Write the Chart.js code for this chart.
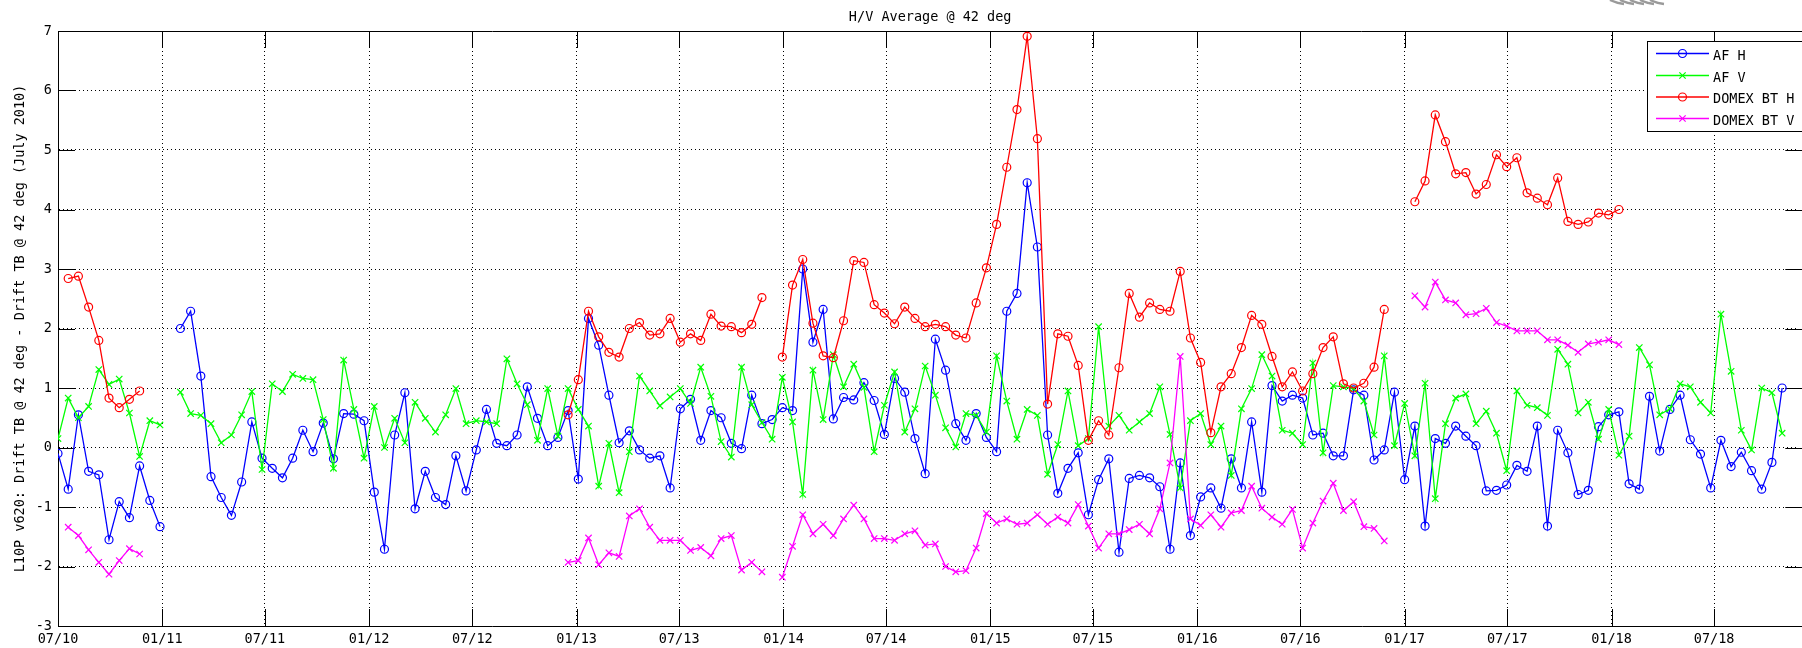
<!DOCTYPE html>
<html>
<head>
<meta charset="utf-8">
<title>H/V Average @ 42 deg</title>
<script src="https://cdn.jsdelivr.net/npm/chart.js@4.4.1/dist/chart.umd.min.js"></script>
<style>
  html, body { margin: 0; padding: 0; background: #fff; }
</style>
</head>
<body>
<canvas id="chart" width="1802" height="648"></canvas>
<script>
// samples every 18 days starting 07/01/2010
const startDate = '2010-07-01';
const stepDays = 18;
const endDate = '2018-11-23';

const tickDates = [
    '2010-07-01', '2011-01-01', '2011-07-01', '2012-01-01', '2012-07-01',
    '2013-01-01', '2013-07-01', '2014-01-01', '2014-07-01', '2015-01-01',
    '2015-07-01', '2016-01-01', '2016-07-01', '2017-01-01', '2017-07-01',
    '2018-01-01', '2018-07-01',
];
const yMin = -3;
const yMax = 7;

const afH = [
    -0.10, -0.70, 0.55, -0.40, -0.46, -1.55, -0.91, -1.18, -0.31, -0.89,
    -1.33, null, 2.00, 2.29, 1.20, -0.49, -0.84, -1.14, -0.58, 0.43,
    -0.18, -0.35, -0.51, -0.18, 0.29, -0.07, 0.41, -0.19, 0.57, 0.56,
    0.45, -0.75, -1.71, 0.21, 0.92, -1.03, -0.40, -0.84, -0.96, -0.14,
    -0.73, -0.04, 0.64, 0.07, 0.03, 0.21, 1.02, 0.49, 0.03, 0.17,
    0.62, -0.53, 2.17, 1.72, 0.88, 0.08, 0.28, -0.04, -0.18, -0.14,
    -0.68, 0.65, 0.81, 0.12, 0.62, 0.50, 0.07, -0.02, 0.88, 0.40,
    0.47, 0.67, 0.62, 3.00, 1.77, 2.32, 0.48, 0.84, 0.80, 1.09,
    0.79, 0.22, 1.16, 0.93, 0.15, -0.44, 1.82, 1.30, 0.40, 0.12,
    0.57, 0.17, -0.07, 2.29, 2.59, 4.45, 3.37, 0.21, -0.77, -0.35,
    -0.09, -1.13, -0.54, -0.19, -1.76, -0.52, -0.47, -0.51, -0.66, -1.71,
    -0.26, -1.48, -0.83, -0.68, -1.02, -0.19, -0.68, 0.43, -0.75, 1.04,
    0.78, 0.88, 0.83, 0.21, 0.24, -0.14, -0.14, 0.97, 0.88, -0.21,
    -0.04, 0.93, -0.54, 0.36, -1.32, 0.15, 0.07, 0.36, 0.19, 0.03,
    -0.73, -0.72, -0.63, -0.30, -0.40, 0.36, -1.32, 0.29, -0.09, -0.79,
    -0.72, 0.35, 0.55, 0.60, -0.61, -0.70, 0.86, -0.06, 0.64, 0.88,
    0.13, -0.11, -0.68, 0.12, -0.32, -0.08, -0.39, -0.70, -0.25, 1.00,
];

const afV = [
    0.15, 0.83, 0.50, 0.69, 1.31, 1.06, 1.15, 0.58, -0.15, 0.45,
    0.38, null, 0.93, 0.57, 0.54, 0.40, 0.08, 0.21, 0.55, 0.94,
    -0.37, 1.07, 0.94, 1.23, 1.16, 1.14, 0.47, -0.35, 1.47, 0.64,
    -0.18, 0.69, 0.00, 0.49, 0.08, 0.76, 0.49, 0.26, 0.55, 0.99,
    0.40, 0.45, 0.43, 0.40, 1.49, 1.07, 0.72, 0.12, 0.99, 0.19,
    0.99, 0.64, 0.36, -0.65, 0.07, -0.76, -0.07, 1.20, 0.95, 0.70,
    0.85, 0.99, 0.74, 1.35, 0.86, 0.10, -0.16, 1.35, 0.72, 0.42,
    0.14, 1.18, 0.43, -0.79, 1.30, 0.47, 1.56, 1.02, 1.40, 1.01,
    -0.07, 0.71, 1.27, 0.26, 0.65, 1.37, 0.88, 0.33, 0.01, 0.57,
    0.54, 0.26, 1.54, 0.78, 0.14, 0.64, 0.54, -0.45, 0.05, 0.95,
    0.03, 0.15, 2.03, 0.36, 0.54, 0.29, 0.43, 0.57, 1.02, 0.22,
    -0.68, 0.45, 0.57, 0.05, 0.36, -0.47, 0.65, 0.99, 1.56, 1.20,
    0.29, 0.24, 0.05, 1.42, -0.09, 1.04, 1.02, 0.99, 0.78, 0.21,
    1.54, 0.03, 0.74, -0.14, 1.08, -0.86, 0.40, 0.83, 0.90, 0.40,
    0.61, 0.24, -0.39, 0.95, 0.71, 0.67, 0.54, 1.65, 1.40, 0.58,
    0.76, 0.14, 0.64, -0.13, 0.19, 1.68, 1.39, 0.55, 0.65, 1.07,
    1.02, 0.76, 0.58, 2.24, 1.28, 0.29, -0.04, 1.00, 0.92, 0.24,
];

const domexH = [
    null, 2.84, 2.88, 2.36, 1.80, 0.83, 0.67, 0.81, 0.95, null,
    null, null, null, null, null, null, null, null, null, null,
    null, null, null, null, null, null, null, null, null, null,
    null, null, null, null, null, null, null, null, null, null,
    null, null, null, null, null, null, null, null, null, null,
    0.55, 1.14, 2.29, 1.86, 1.60, 1.52, 2.00, 2.10, 1.89, 1.91,
    2.17, 1.77, 1.91, 1.80, 2.24, 2.04, 2.03, 1.93, 2.07, 2.52,
    null, 1.52, 2.73, 3.16, 2.09, 1.54, 1.51, 2.13, 3.14, 3.11,
    2.40, 2.26, 2.08, 2.36, 2.17, 2.03, 2.07, 2.03, 1.89, 1.84,
    2.43, 3.02, 3.75, 4.71, 5.68, 6.91, 5.19, 0.73, 1.91, 1.87,
    1.38, 0.12, 0.45, 0.21, 1.34, 2.59, 2.19, 2.43, 2.32, 2.29,
    2.96, 1.84, 1.43, 0.25, 1.02, 1.24, 1.68, 2.22, 2.07, 1.53,
    1.02, 1.27, 0.95, 1.24, 1.68, 1.86, 1.07, 1.00, 1.08, 1.35,
    2.32, null, null, 4.13, 4.48, 5.59, 5.14, 4.60, 4.62, 4.26,
    4.42, 4.92, 4.72, 4.87, 4.28, 4.19, 4.08, 4.53, 3.80, 3.75,
    3.79, 3.94, 3.91, 4.00, null, null, null, null, null, null,
    null, null, null, null, null, null, null, null, null, null,
];

const domexV = [
    null, -1.34, -1.48, -1.72, -1.93, -2.13, -1.90, -1.70, -1.79, null,
    null, null, null, null, null, null, null, null, null, null,
    null, null, null, null, null, null, null, null, null, null,
    null, null, null, null, null, null, null, null, null, null,
    null, null, null, null, null, null, null, null, null, null,
    -1.93, -1.90, -1.52, -1.97, -1.77, -1.83, -1.15, -1.03, -1.34, -1.56,
    -1.56, -1.56, -1.73, -1.68, -1.82, -1.53, -1.48, -2.06, -1.93, -2.09,
    null, -2.18, -1.66, -1.13, -1.45, -1.29, -1.48, -1.20, -0.97, -1.20,
    -1.53, -1.53, -1.56, -1.45, -1.40, -1.64, -1.62, -2.00, -2.09, -2.07,
    -1.69, -1.11, -1.27, -1.20, -1.29, -1.27, -1.13, -1.29, -1.17, -1.27,
    -0.96, -1.32, -1.69, -1.45, -1.45, -1.38, -1.29, -1.45, -1.03, -0.26,
    1.53, -1.20, -1.31, -1.13, -1.34, -1.10, -1.06, -0.65, -1.02, -1.17,
    -1.29, -1.04, -1.69, -1.27, -0.90, -0.60, -1.06, -0.91, -1.33, -1.36,
    -1.57, null, null, 2.55, 2.36, 2.78, 2.48, 2.43, 2.23, 2.25,
    2.34, 2.10, 2.04, 1.96, 1.96, 1.96, 1.81, 1.81, 1.72, 1.60,
    1.74, 1.77, 1.81, 1.73, null, null, null, null, null, null,
    null, null, null, null, null, null, null, null, null, null,
];

const FONT = '"DejaVu Sans Mono", monospace';
const FONT_SIZE = 13.5;
const TICK_LEN = 17;

const dayOf = (s) => (Date.parse(s) - Date.parse(startDate)) / 86400000;
const tickDays = tickDates.map(dayOf);
const tickLabel = (s) => s.slice(5, 7) + '/' + s.slice(2, 4);

const toPoints = (values) => values.map((v, i) => ({ x: i * stepDays, y: v }));

function lineSet(label, values, color, style, radius, order) {
    return {
        label: label,
        data: toPoints(values),
        borderColor: color,
        backgroundColor: color,
        borderWidth: 1.3,
        pointStyle: style,
        pointRadius: radius,
        pointBorderWidth: 1.2,
        pointBorderColor: color,
        pointBackgroundColor: 'rgba(0,0,0,0)',
        spanGaps: false,
        tension: 0,
        order: order,
    };
}

// axes box, inward ticks, title and legend
const matlabFrame = {
    id: 'matlabFrame',
    beforeDatasetsDraw(chart) {
        const { ctx, chartArea: a, scales: { x, y } } = chart;
        const rightAxis = a.right + 6;
        ctx.save();
        ctx.strokeStyle = '#000';
        ctx.lineWidth = 1;
        ctx.beginPath();
        ctx.moveTo(a.left, Math.round(a.top) + 0.5);
        ctx.lineTo(a.right, Math.round(a.top) + 0.5);
        x.ticks.forEach((t) => {
            const px = Math.round(x.getPixelForValue(t.value)) + 0.5;
            ctx.moveTo(px, a.bottom);
            ctx.lineTo(px, a.bottom - TICK_LEN);
            ctx.moveTo(px, a.top);
            ctx.lineTo(px, a.top + TICK_LEN);
        });
        y.ticks.forEach((t) => {
            const py = Math.round(y.getPixelForValue(t.value)) + 0.5;
            ctx.moveTo(a.left, py);
            ctx.lineTo(a.left + TICK_LEN, py);
            ctx.moveTo(rightAxis, py);
            ctx.lineTo(rightAxis - TICK_LEN, py);
        });
        ctx.stroke();
        ctx.restore();
    },
    afterDraw(chart) {
        const { ctx, chartArea: a } = chart;
        ctx.save();
        ctx.font = FONT_SIZE + 'px ' + FONT;
        ctx.fillStyle = '#000';

        // title
        ctx.textAlign = 'center';
        ctx.textBaseline = 'middle';
        ctx.fillText('H/V Average @ 42 deg', (a.left + a.right + 6) / 2, 17.5);

        // cut-off logo at the top edge
        ctx.strokeStyle = '#9a9a9a';
        ctx.lineWidth = 2.5;
        for (let k = 0; k < 5; k++) {
            ctx.beginPath();
            ctx.moveTo(1610 + k * 10, 0);
            ctx.quadraticCurveTo(1616 + k * 10, 3, 1624 + k * 10, 4);
            ctx.stroke();
        }

        // legend
        const box = { x: 1647.5, y: 41.5, w: 200, h: 90 };
        ctx.fillStyle = '#fff';
        ctx.fillRect(box.x, box.y, box.w, box.h);
        ctx.strokeStyle = '#000';
        ctx.lineWidth = 1;
        ctx.strokeRect(box.x, box.y, box.w, box.h);
        const rows = [53.5, 75.5, 97, 118.5];
        chart.data.datasets.forEach((ds, i) => {
            const yy = rows[i];
            ctx.strokeStyle = ds.borderColor;
            ctx.lineWidth = ds.borderWidth;
            ctx.beginPath();
            ctx.moveTo(1656, yy);
            ctx.lineTo(1709, yy);
            ctx.stroke();
            ctx.lineWidth = ds.pointBorderWidth;
            ctx.beginPath();
            const cx = 1682.5;
            if (ds.pointStyle === 'circle') {
                ctx.arc(cx, yy, ds.pointRadius, 0, Math.PI * 2);
            } else {
                const r = ds.pointRadius * 0.7;
                ctx.moveTo(cx - r, yy - r); ctx.lineTo(cx + r, yy + r);
                ctx.moveTo(cx - r, yy + r); ctx.lineTo(cx + r, yy - r);
            }
            ctx.stroke();
            ctx.fillStyle = '#000';
            ctx.textAlign = 'left';
            ctx.textBaseline = 'middle';
            ctx.fillText(ds.label, 1713, yy + 2.5);
        });
        ctx.restore();
    },
};

new Chart(document.getElementById('chart'), {
    type: 'line',
    data: {
        datasets: [
            lineSet('AF H', afH, '#0000ff', 'circle', 4, 4),
            lineSet('AF V', afV, '#00ff00', 'crossRot', 4.5, 3),
            lineSet('DOMEX BT H', domexH, '#ff0000', 'circle', 4, 2),
            lineSet('DOMEX BT V', domexV, '#ff00ff', 'crossRot', 4.5, 1),
        ]
    },
    options: {
        responsive: false,
        animation: false,
        events: [],
        devicePixelRatio: 1,
        layout: {
            padding: { top: 31, right: 0, bottom: 0, left: 0 }
        },
        scales: {
            x: {
                type: 'linear',
                min: 0,
                max: dayOf(endDate),
                afterBuildTicks: (scale) => {
                    scale.ticks = tickDays.map((v) => ({ value: v }));
                },
                afterFit: (scale) => { scale.height = 22; },
                ticks: {
                    autoSkip: false,
                    maxRotation: 0,
                    padding: 5,
                    color: '#000',
                    font: { family: FONT, size: FONT_SIZE },
                    callback: (v) => {
                        const i = tickDays.indexOf(v);
                        return i >= 0 ? tickLabel(tickDates[i]) : '';
                    }
                },
                grid: {
                    color: '#000',
                    lineWidth: 1,
                    drawTicks: false,
                },
                border: { display: true, color: '#000', width: 1, dash: [1, 3] }
            },
            y: {
                min: yMin,
                max: yMax,
                afterFit: (scale) => { scale.width = 58; },
                ticks: {
                    stepSize: 1,
                    padding: 6,
                    color: '#000',
                    font: { family: FONT, size: FONT_SIZE },
                },
                grid: {
                    color: '#000',
                    lineWidth: 1,
                    drawTicks: false,
                },
                border: { display: true, color: '#000', width: 1, dash: [1, 3] },
                title: {
                    display: true,
                    text: 'L10P v620: Drift TB @ 42 deg - Drift TB @ 42 deg (July 2010)',
                    color: '#000',
                    font: { family: FONT, size: FONT_SIZE },
                    padding: { top: 12, bottom: 0 }
                }
            }
        },
        plugins: {
            legend: { display: false },
            tooltip: { enabled: false },
            title: { display: false }
        }
    },
    plugins: [matlabFrame]
});
</script>
</body>
</html>
